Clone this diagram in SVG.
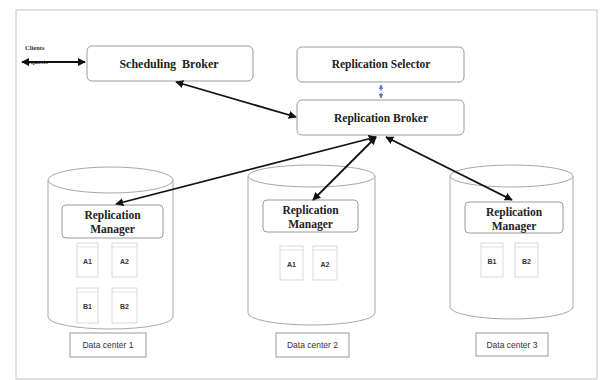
<svg xmlns="http://www.w3.org/2000/svg" width="601" height="380" viewBox="0 0 601 380">
<defs>
<marker id="ah" viewBox="0 0 10 10" refX="9" refY="5" markerWidth="4.5" markerHeight="4.5" orient="auto-start-reverse"><path d="M0,0 L10,5 L0,10 z" fill="#111"/></marker>
<marker id="bh" viewBox="0 0 10 10" refX="9" refY="5" markerWidth="4" markerHeight="4" orient="auto-start-reverse"><path d="M0,0 L10,5 L0,10 z" fill="#5b6fc7"/></marker>
<style>
.box{fill:#fff;stroke:#9a9a9a;stroke-width:1}
.cyl{fill:#fff;stroke:#a8a8a8;stroke-width:1}
.doc{fill:#fff;stroke:#cfcfcf;stroke-width:0.8}
.t{font-family:"Liberation Serif",serif;font-weight:bold;fill:#222;text-anchor:middle}
.s{font-family:"Liberation Sans",sans-serif;fill:#333;text-anchor:middle}
.c{stroke:#111;stroke-width:1.8;fill:none;marker-start:url(#ah);marker-end:url(#ah)}
</style>
</defs>
<rect x="0" y="0" width="601" height="380" fill="#fff"/>
<rect x="16" y="10" width="581" height="369" fill="none" stroke="#d6d6d6" stroke-width="1.5"/>

<g id="clients">
<text x="25" y="50" font-family="Liberation Serif,serif" font-weight="bold" font-size="6.5" fill="#333">Clients</text>
<text x="25" y="64" font-family="Liberation Serif,serif" font-weight="bold" font-size="6.5" fill="#333">requests</text>
</g>

<g id="scheduling-broker">
<rect class="box" x="87" y="46" width="166" height="35" rx="5"/>
<text class="t" x="169" y="68" font-size="12" xml:space="preserve">Scheduling  Broker</text>
</g>

<g id="replication-selector">
<rect class="box" x="297" y="47" width="167" height="35" rx="5"/>
<text class="t" x="381" y="68" font-size="11.5">Replication Selector</text>
</g>

<g id="replication-broker">
<rect class="box" x="297" y="100" width="167" height="35" rx="5"/>
<text class="t" x="381" y="122" font-size="11.5">Replication Broker</text>
</g>

<g id="dc1">
<path class="cyl" d="M48,180 L48,317 A62.5,12 0 0 0 173,317 L173,180"/>
<ellipse class="cyl" cx="110.5" cy="180" rx="62.5" ry="13"/>
<rect class="box" x="62" y="205" width="101" height="33" rx="4"/>
<text class="t" x="112.5" y="219" font-size="11.5">Replication</text>
<text class="t" x="112.5" y="233" font-size="11.5">Manager</text>
<rect class="doc" x="77" y="243" width="21" height="34"/><path d="M77,247 H98" stroke="#dcdcdc" stroke-width="0.8"/>
<text class="s" x="87.5" y="264" font-size="7" font-weight="bold">A1</text>
<rect class="doc" x="112" y="243" width="25" height="34"/><path d="M112,247 H137" stroke="#dcdcdc" stroke-width="0.8"/>
<text class="s" x="124.5" y="264" font-size="7" font-weight="bold">A2</text>
<rect class="doc" x="77" y="288" width="21" height="35"/><path d="M77,292 H98" stroke="#dcdcdc" stroke-width="0.8"/>
<text class="s" x="87.5" y="309" font-size="7" font-weight="bold">B1</text>
<rect class="doc" x="112" y="288" width="25" height="35"/><path d="M112,292 H137" stroke="#dcdcdc" stroke-width="0.8"/>
<text class="s" x="124.5" y="309" font-size="7" font-weight="bold">B2</text>
<rect class="box" x="70" y="333" width="76" height="24"/>
<text class="s" x="108" y="348" font-size="8.5">Data center 1</text>
</g>

<g id="dc2">
<path class="cyl" d="M248,176 L248,313 A63.5,12 0 0 0 375,313 L375,176"/>
<ellipse class="cyl" cx="311.5" cy="176" rx="63.5" ry="11"/>
<rect class="box" x="263" y="200" width="95" height="32" rx="4"/>
<text class="t" x="310.5" y="214" font-size="11.5">Replication</text>
<text class="t" x="310.5" y="228" font-size="11.5">Manager</text>
<rect class="doc" x="280" y="246" width="23" height="34"/><path d="M280,250 H303" stroke="#dcdcdc" stroke-width="0.8"/>
<text class="s" x="291.5" y="267" font-size="7" font-weight="bold">A1</text>
<rect class="doc" x="313" y="246" width="24" height="34"/><path d="M313,250 H337" stroke="#dcdcdc" stroke-width="0.8"/>
<text class="s" x="325" y="267" font-size="7" font-weight="bold">A2</text>
<rect class="box" x="276" y="333" width="73" height="24"/>
<text class="s" x="312.5" y="348" font-size="8.5">Data center 2</text>
</g>

<g id="dc3">
<path class="cyl" d="M450,176 L450,307 A61.5,12 0 0 0 573,307 L573,176"/>
<ellipse class="cyl" cx="511.5" cy="176" rx="61.5" ry="11"/>
<rect class="box" x="465" y="202" width="98" height="31" rx="4"/>
<text class="t" x="514" y="216" font-size="11.5">Replication</text>
<text class="t" x="514" y="230" font-size="11.5">Manager</text>
<rect class="doc" x="481" y="243" width="22" height="34"/><path d="M481,247 H503" stroke="#dcdcdc" stroke-width="0.8"/>
<text class="s" x="492" y="264" font-size="7" font-weight="bold">B1</text>
<rect class="doc" x="515" y="243" width="23" height="34"/><path d="M515,247 H538" stroke="#dcdcdc" stroke-width="0.8"/>
<text class="s" x="526.5" y="264" font-size="7" font-weight="bold">B2</text>
<rect class="box" x="476" y="333" width="72" height="23"/>
<text class="s" x="512" y="347.5" font-size="8.5">Data center 3</text>
</g>

<g id="connectors">
<line class="c" x1="22" y1="62" x2="85" y2="62" stroke-width="1.2"/>
<line class="c" x1="176" y1="82" x2="296" y2="117"/>
<line x1="381" y1="85" x2="381" y2="98" stroke="#5b6fc7" stroke-width="1.2" stroke-dasharray="2,2" marker-start="url(#bh)" marker-end="url(#bh)"/>
<line class="c" x1="376" y1="137" x2="116" y2="204"/>
<line class="c" x1="376" y1="137" x2="313" y2="200"/>
<line class="c" x1="386" y1="137" x2="512" y2="200"/>
</g>
</svg>
